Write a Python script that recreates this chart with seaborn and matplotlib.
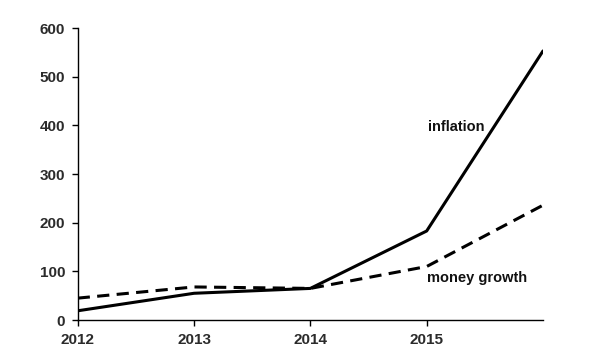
import matplotlib
matplotlib.use("Agg")
import matplotlib.pyplot as plt
import pandas as pd
import seaborn as sns

years = [2012, 2013, 2014, 2015, 2016]
inflation = [19, 55, 65, 183, 553]
money_growth = [45, 68, 65, 110, 236]
x_ticks = [2012, 2013, 2014, 2015]
y_ticks = [0, 100, 200, 300, 400, 500, 600]

df = pd.DataFrame(
    {
        "year": years * 2,
        "value": inflation + money_growth,
        "series": ["inflation"] * len(years) + ["money growth"] * len(years),
    }
)

sns.set_style("ticks")
plt.rcParams["font.family"] = ["Liberation Sans", "DejaVu Sans"]

fig = plt.figure(figsize=(6, 3.6), dpi=100)
ax = fig.add_axes([0.1295, 0.111, 0.7755, 0.811])

sns.lineplot(
    data=df,
    x="year",
    y="value",
    style="series",
    dashes={"inflation": "", "money growth": (4, 2.4)},
    color="black",
    linewidth=2.2,
    legend=False,
    ax=ax,
)

ax.set_xlim(2012, 2016)
ax.set_ylim(0, 600)
ax.set_xticks(x_ticks)
ax.set_yticks(y_ticks)
ax.set_xlabel("")
ax.set_ylabel("")
sns.despine(ax=ax)
for s in ["left", "bottom"]:
    ax.spines[s].set_linewidth(1)
    ax.spines[s].set_color("black")
ax.tick_params(axis="both", length=4, width=1, color="black",
               labelsize=11, labelcolor="#2b2b2b", pad=5)
for lbl in ax.get_xticklabels() + ax.get_yticklabels():
    lbl.set_fontweight("bold")

ax.text(2015.01, 397, "inflation", fontsize=10.5, fontweight="bold",
        color="#111111", va="center", ha="left")
ax.text(2015.0, 86, "money growth", fontsize=10.5, fontweight="bold",
        color="#111111", va="center", ha="left")

fig.savefig("out.png", dpi=100)
